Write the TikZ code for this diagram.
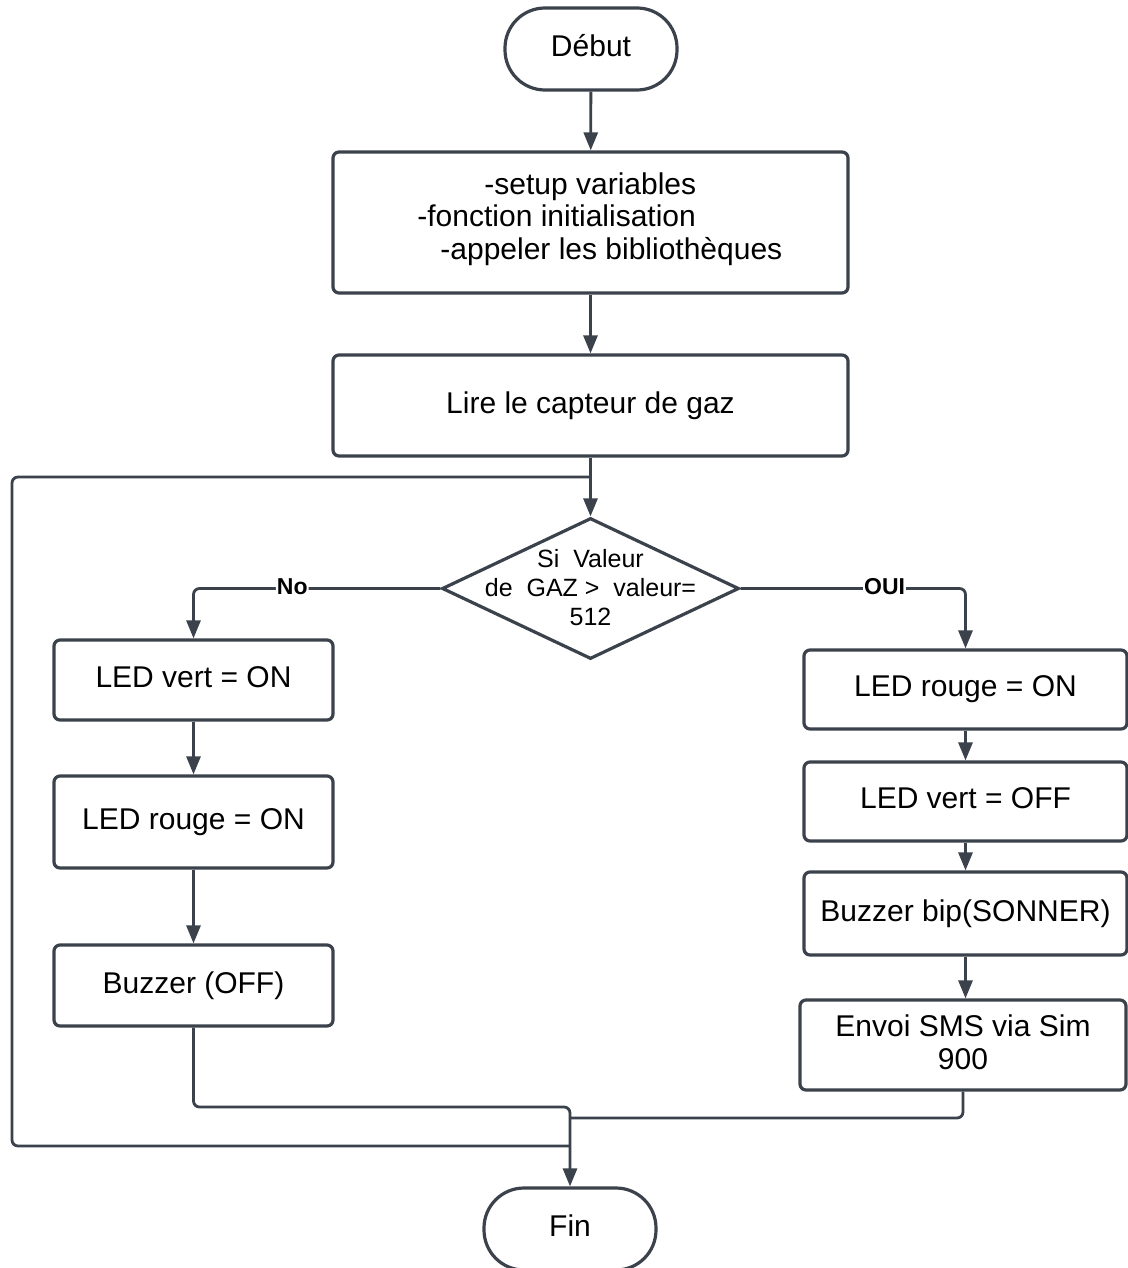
\documentclass[tikz,border=0pt]{standalone}
\usepackage{fontspec}
\setmainfont{Liberation Sans}
\usetikzlibrary{arrows.meta,shapes.geometric}
\definecolor{lc}{RGB}{59,66,76}
\begin{document}
\begin{tikzpicture}[x=0.5pt,y=-0.5pt,
 box/.style={draw=lc, line width=1.6pt, rounded corners=3pt, inner sep=0pt, text depth=3.2pt, font=\fontsize{15}{16.5}\selectfont, align=center},
 term/.style={draw=lc, line width=1.6pt, rounded corners=20pt, minimum width=86pt, minimum height=41pt, inner sep=0pt, text height=10.8pt, text depth=3.2pt, font=\fontsize{15}{18}\selectfont},
 conn/.style={draw=lc, line width=1.4pt, rounded corners=3pt},
 arr/.style={conn, -{Triangle[length=9pt,width=7pt]}},
 lbl/.style={fill=white, inner sep=0.5pt, font=\fontsize{11.5}{12}\selectfont\bfseries},
 txt/.style={font=\fontsize{15}{16.5}\selectfont, inner sep=0pt, text height=10.8pt, text depth=3.2pt}
]
\useasboundingbox (0,0) rectangle (1128,1268);
\fill[white] (0,0) rectangle (1128,1268);

\node[term] (debut) at (591,49) {Début};
\node[box, minimum width=257.5pt, minimum height=70.5pt] (setup) at (590.5,222.5) {};
\node[txt, anchor=west] (s1) at (484,187) {-setup variables};
\node[txt, anchor=west] (s2) at (417,219) {-fonction initialisation};
\node[txt, anchor=west] (s3) at (440,252) {-appeler les bibliothèques};
\node[box, minimum width=257.5pt, minimum height=50.5pt] (lire) at (590.5,405.5) {Lire le capteur de gaz};
\node[draw=lc, line width=1.6pt, diamond, minimum width=148.5pt, minimum height=70.5pt, inner sep=0pt] (dec) at (590.5,588.5) {};
\node[align=center, font=\fontsize{12.5}{14.5}\selectfont, inner sep=0pt] (dect) at (590.5,588) {Si\ \ Valeur\\de\ \ GAZ >\ \ valeur=\\512};

\node[box, minimum width=139.5pt, minimum height=40pt] (lv) at (193.5,680) {LED vert = ON};
\node[box, minimum width=139.5pt, minimum height=46pt] (lr) at (193.5,822) {LED rouge = ON};
\node[box, minimum width=139.5pt, minimum height=40.5pt] (bo) at (193.5,985.5) {Buzzer (OFF)};

\node[box, minimum width=161.5pt, minimum height=39.5pt] (rr) at (965.5,689.5) {LED rouge = ON};
\node[box, minimum width=161.5pt, minimum height=39.5pt] (rv) at (965.5,801.5) {LED vert = OFF};
\node[box, minimum width=161.5pt, minimum height=41.5pt] (bb) at (965.5,913.5) {Buzzer bip(SONNER)};
\node[box, minimum width=163pt, minimum height=45pt] (sms) at (963,1045) {Envoi SMS via Sim\\900};
\node[term] (fin) at (570,1229) {Fin};

\draw[arr] (debut) -- (setup);
\draw[arr] (setup) -- (lire);
\draw[arr] (lire) -- (dec);
\coordinate (lp) at (590.5,477);
\coordinate (lpa) at (12,477);
\coordinate (lpb) at (12,1146);
\coordinate (j3) at (570,1146);
\draw[conn] (lp) -- (lpa) -- (lpb) -- (j3);

\draw[arr] (dec.west) -| node[lbl,pos=0.3,yshift=1pt] (lno) {No} (lv.north);
\draw[arr] (dec.east) -| node[lbl,pos=0.32,yshift=1pt] (loui) {OUI} (rr.north);

\draw[arr] (lv) -- (lr);
\draw[arr] (lr) -- (bo);
\draw[arr] (rr) -- (rv);
\draw[arr] (rv) -- (bb);
\draw[arr] (bb.south) -- (bb.south |- sms.north);

\coordinate (j1) at (570,1107);
\coordinate (j2) at (570,1118);
\draw[arr] (bo.south) |- (j1) -- (fin.north);
\draw[conn] (sms.south) |- (j2);
\end{tikzpicture}
\end{document}
